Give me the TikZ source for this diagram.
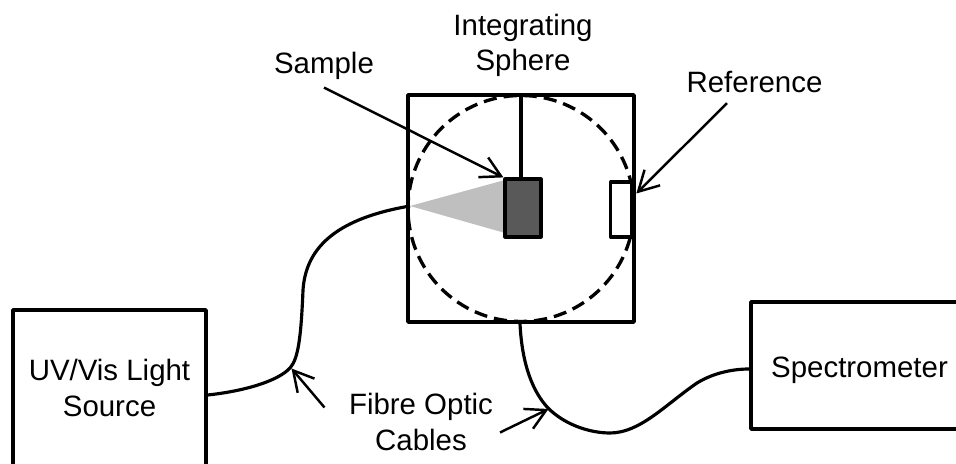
\documentclass[tikz,border=0pt]{standalone}
\usepackage{fontspec}
\setmainfont{Liberation Sans}
\usetikzlibrary{arrows.meta}

\tikzset{
    boxline/.style={draw=black, line width=2pt, line join=round},
    labeltext/.style={font=\fontsize{16.75}{20}\selectfont, align=center, inner sep=0pt},
    pointer/.style={-{Straight Barb[length=0.4cm, width=0.44cm, line width=1.4pt]}, line width=1.4pt},
    fibre/.style={line width=1.8pt}
}

\begin{document}
\begin{tikzpicture}
    \useasboundingbox (0,0) rectangle (19.12,9.28);

    % Integrating sphere housing
    \node[boxline, minimum width=4.52cm, minimum height=4.54cm, inner sep=0pt] (housing) at (10.42,5.11) {};
    \node[circle, draw=black, line width=1.9pt, minimum size=4.52cm, inner sep=0pt, dash pattern=on 7.5pt off 4pt] (sphere) at (10.42,5.11) {};

    % Light cone, sample and reference
    \fill[black!25] (8.2,5.16) coordinate (beamstart) -- (10.1,5.68) -- (10.1,4.62) -- cycle;
    \node[boxline, fill=black!65, line width=1.8pt, minimum width=0.72cm, minimum height=1.16cm, inner sep=0pt] (sample) at (10.46,5.12) {};
    \node[boxline, fill=white, line width=1.8pt, minimum width=0.41cm, minimum height=1.1cm, inner sep=0pt] (reference) at (12.42,5.09) {};
    \draw[line width=3.4pt] (reference.north east) -- (reference.south east);
    \draw[line width=1.8pt] (sample.north -| housing.north) -- (housing.north);

    % Source and detector
    \node[boxline, minimum width=3.86cm, minimum height=3.12cm, labeltext] (source) at (2.19,1.52) {UV/Vis Light\\Source};
    \node[boxline, minimum width=4.2cm, minimum height=2.54cm] (spectrometer) at (17.12,1.97) {};
    \node[labeltext] (spectrometerlabel) at (17.19,1.88) {Spectrometer};

    % Fibres
    \draw[fibre] ([yshift=-0.14cm]source.east) .. controls (4.9,1.46) and (5.56,1.66) .. (5.8,1.92)
        .. controls (5.96,2.1) and (6.02,2.5) .. (6.06,3.48)
        .. controls (6.12,4.38) and (6.8,4.92) .. (beamstart);
    \draw[fibre] ([xshift=-0.02cm]housing.south) .. controls (10.44,1.98) and (10.66,1.44) .. (10.96,1.12)
        .. controls (11.3,0.78) and (11.8,0.62) .. (12.2,0.62)
        .. controls (12.8,0.62) and (13.3,1.18) .. (13.94,1.62)
        .. controls (14.3,1.84) and (14.7,1.9) .. ([yshift=-0.07cm]spectrometer.west);

    % Labels and pointers
    \node[labeltext] (samplelabel) at (6.48,7.96) {Sample};
    \node[labeltext] (spherelabel) at (10.46,8.38) {Integrating\\Sphere};
    \node[labeltext] (referencelabel) at (15.09,7.64) {Reference};
    \node[labeltext] (fibrelabel) at (8.42,0.84) {Fibre Optic\\Cables};
    \coordinate (cabletipa) at (5.83,1.91);
    \coordinate (cabletipb) at (10.97,1.1);
    \draw[pointer] ([yshift=-0.15cm]samplelabel.south) -- (sample.north west);
    \draw[pointer] ([shift={(-0.55,-0.2)}]referencelabel.south) -- ([shift={(0.07,0.32)}]reference.east);
    \draw[pointer] ([shift={(-1.93,0.29)}]fibrelabel.center) -- (cabletipa);
    \draw[pointer] ([shift={(1.58,-0.21)}]fibrelabel.center) -- (cabletipb);
\end{tikzpicture}
\end{document}
